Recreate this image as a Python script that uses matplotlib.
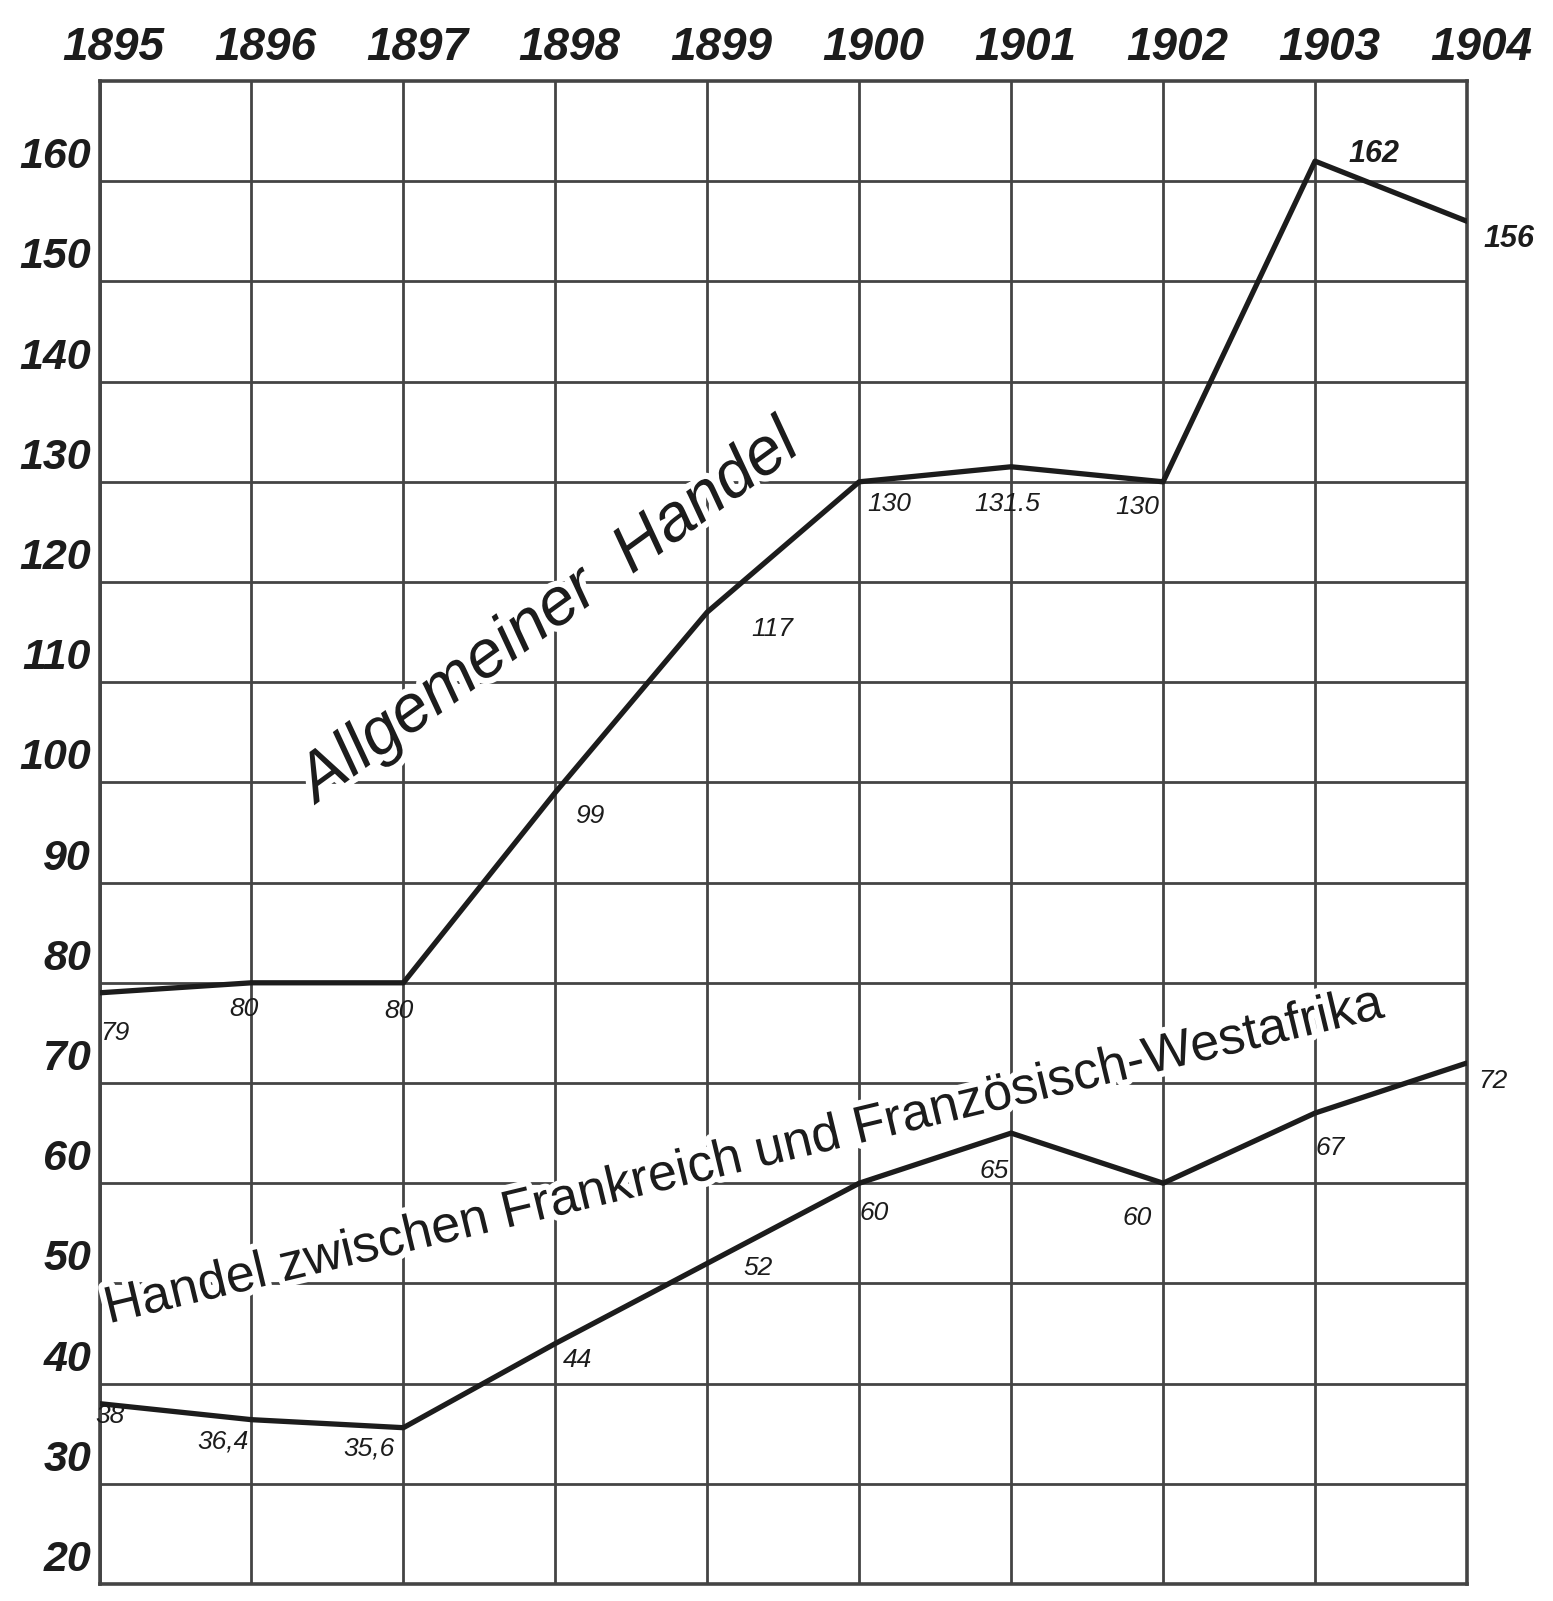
import matplotlib
matplotlib.use("Agg")
import matplotlib.pyplot as plt
import matplotlib.patheffects as pe
import matplotlib.transforms as mtrans

# ---------------- data ----------------
years = [1895, 1896, 1897, 1898, 1899, 1900, 1901, 1902, 1903, 1904]
allgemein = [79, 80, 80, 99, 117, 130, 131.5, 130, 162, 156]
allgemein_labels = ["79", "80", "80", "99", "117", "130", "131.5", "130", "162", "156"]
westafrika = [38, 36.4, 35.6, 44, 52, 60, 65, 60, 67, 72]
westafrika_labels = ["38", "36,4", "35,6", "44", "52", "60", "65", "60", "67", "72"]
y_ticks = [20, 30, 40, 50, 60, 70, 80, 90, 100, 110, 120, 130, 140, 150, 160]
title_allg = "Allgemeiner  Handel"
title_west = "Handel zwischen Frankreich und Französisch-Westafrika"

# label offsets in pixels (x right, y up)
allg_off = [(15, -40), (-8, -26), (-4, -28), (34, -24), (65, -17),
            (30, -22), (-4, -37), (-26, -25), (59, 7), (42, -18)]
west_off = [(10, -12), (-28, -22), (-34, -21), (22, -16), (51, -5),
            (15, -30), (-17, -38), (-26, -35), (15, -35), (26, -18)]

fam = ["Liberation Sans", "DejaVu Sans"]
ink = "#1c1c1c"
gridc = "#444444"

W, H = 1553, 1601
fig = plt.figure(figsize=(W / 100, H / 100), dpi=100)
left, right, top, bottom = 99.5, 1467, 81, 1584
ax = fig.add_axes([left / W, (H - bottom) / H, (right - left) / W, (bottom - top) / H])
ax.set_xlim(1895, 1904)
ax.set_ylim(20, 170)

# grid
ax.set_xticks(years)
ax.set_yticks(y_ticks)
ax.grid(True, color=gridc, lw=2.0, zorder=0)
ax.set_axisbelow(True)
for s in ax.spines.values():
    s.set_color(gridc)
    s.set_linewidth(2.6)

ax.xaxis.tick_top()
ax.tick_params(axis="both", length=0)
ax.tick_params(axis="x", pad=8)
ax.set_xticklabels([str(y) for y in years], family=fam, style="italic",
                   weight="bold", fontsize=33, color=ink)
for lab in ax.get_xticklabels():
    lab.set_transform(lab.get_transform() +
                      mtrans.ScaledTranslation(14 / 100, 0, fig.dpi_scale_trans))

ax.tick_params(axis="y", pad=6)
ax.set_yticklabels([str(v) for v in y_ticks], family=fam, style="italic",
                   weight="bold", fontsize=31, color=ink, va="bottom")
for lab in ax.get_yticklabels():
    lab.set_transform(lab.get_transform() +
                      mtrans.ScaledTranslation(0, 4 / 100, fig.dpi_scale_trans))

# lines
ax.plot(years, allgemein, color=ink, lw=3.8, solid_joinstyle="round",
        solid_capstyle="round", zorder=4)
ax.plot(years, westafrika, color=ink, lw=3.8, solid_joinstyle="round",
        solid_capstyle="round", zorder=4)

# value labels
for x, y, t, (dx, dy) in zip(years, allgemein, allgemein_labels, allg_off):
    big = t in ("162", "156")
    ax.annotate(t, (x, y), xytext=(dx, dy), textcoords="offset pixels",
                ha="center", va="center", family=fam, style="italic",
                weight="bold" if big else "normal",
                fontsize=22 if big else 19, color=ink, zorder=5,
                annotation_clip=False)
for x, y, t, (dx, dy) in zip(years, westafrika, westafrika_labels, west_off):
    ax.annotate(t, (x, y), xytext=(dx, dy), textcoords="offset pixels",
                ha="center", va="center", family=fam, style="italic",
                fontsize=19, color=ink, zorder=5, annotation_clip=False)

# big handwritten titles along the lines
mask = [pe.withStroke(linewidth=9, foreground="white")]
ax.text(1896.43, 97.9, title_allg, rotation=36, rotation_mode="anchor",
        ha="left", va="baseline", family=fam, style="italic", fontsize=48,
        color=ink, zorder=3, path_effects=mask)
ax.text(1895.06, 46.0, title_west, rotation=13.5, rotation_mode="anchor",
        ha="left", va="baseline", family=fam, fontsize=37.5,
        color=ink, zorder=3, path_effects=mask)

fig.savefig("out.png", dpi=100, facecolor="white")
